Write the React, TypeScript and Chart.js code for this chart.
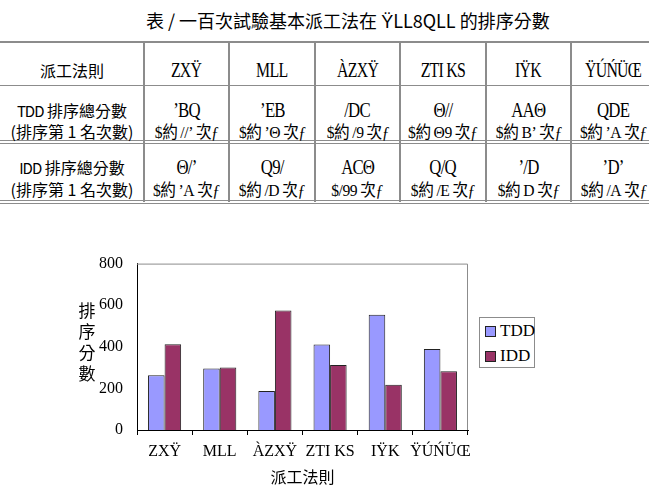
import React, { useEffect, useRef } from "react";
import { Chart, registerables } from "chart.js";

Chart.register(...registerables);

// ---- data ----
const categories = ["ZXŸ", "MLL", "ÀZXŸ", "ZTI KS", "IŸK", "ŸÚŃÜŒ"];
const seriesNames = ["TDD", "IDD"];
const tddScores = [263, 296, 187, 411, 554, 389];
const iddScores = [412, 301, 574, 313, 218, 282];
const tddFirst = [112, 24, 10, 40, 62, 25];
const iddFirst = [25, 18, 100, 19, 8, 15];
const yTicks = [0, 200, 400, 600, 800];
const titleText = "表 / 一百次試驗基本派工法在 ŸLL8QLL 的排序分數";
const ruleHeader = "派工法則";
const rowLabels = [
  ["TDD", " 排序總分數", "(排序第 1 名次數)"],
  ["IDD", " 排序總分數", "(排序第 1 名次數)"],
];
const yTitle = ["排", "序", "分", "數"];

// digit glyphs as they appear in the reference (symbol-font substitution)
const digitGlyphs = ["9", "/", "ʼ", "Q", "Θ", "A", "B", "C", "D", "E"];
const enc = (n: number) =>
  String(n)
    .split("")
    .map((d) => digitGlyphs[+d])
    .join("");

// ---- layout constants ----
const colX = [0, 144, 229, 315, 400, 486, 571, 656];
const rowY = [42, 85, 142, 202];
const lineColor = "#8c8c8c";
const serif = "'Liberation Serif', 'Times New Roman', serif";
const cjk = "'Noto Sans CJK TC', 'Noto Sans CJK SC', sans-serif";

const TDD_COLOR = "#9999FF";
const IDD_COLOR = "#993366";

function Line(props: { cx: number; cy: number; w: number; size: number; font: string; children: any; spacing?: number; sx?: number }) {
  const { cx, cy, w, size, font, children, spacing, sx } = props;
  return (
    <div
      style={{
        position: "absolute",
        left: cx - w / 2,
        top: cy - 14,
        width: w,
        height: 28,
        lineHeight: "28px",
        textAlign: "center",
        fontSize: size,
        fontFamily: font,
        whiteSpace: "nowrap",
        letterSpacing: spacing ?? 0,
        color: "#000",
      }}
    >
      <span style={{ display: "inline-block", transform: `scaleX(${sx ?? 1})` }}>{children}</span>
    </div>
  );
}

function Table() {
  const els: any[] = [];
  els.push(<div key="h0" style={{ position: "absolute", left: 0, top: rowY[0] - 1, width: 656, height: 2, background: lineColor }} />);
  els.push(<div key="h1" style={{ position: "absolute", left: 0, top: rowY[1], width: 656, height: 1, background: lineColor }} />);
  [2, 3].forEach((i) => {
    els.push(<div key={"h" + i + "a"} style={{ position: "absolute", left: 0, top: rowY[i] - 2, width: 656, height: 1, background: lineColor }} />);
    els.push(<div key={"h" + i + "b"} style={{ position: "absolute", left: 0, top: rowY[i] + 1, width: 656, height: 1, background: lineColor }} />);
  });
  for (let i = 1; i < colX.length - 1; i++) {
    els.push(
      <div key={"v" + i} style={{ position: "absolute", left: colX[i] - 1, top: rowY[0], width: 2, height: rowY[3] - rowY[0], background: lineColor }} />
    );
  }
  const cx = (i: number) => (colX[i] + colX[i + 1]) / 2;
  els.push(
    <Line key="hdr" cx={cx(0)} cy={70} w={140} size={16} font={cjk}>
      {ruleHeader}
    </Line>
  );
  categories.forEach((c, i) => {
    els.push(
      <Line key={"c" + i} cx={cx(i + 1)} cy={70} w={84} size={22} font={serif} spacing={-1} sx={0.72}>
        {c}
      </Line>
    );
  });
  const rowCy = [
    [110, 131],
    [167, 189],
  ];
  const scores = [tddScores, iddScores];
  const firsts = [tddFirst, iddFirst];
  rowLabels.forEach((lab, r) => {
    els.push(
      <Line key={"rl" + r} cx={cx(0)} cy={rowCy[r][0]} w={144} size={16} font={cjk}>
        <span style={{ fontSize: 15, letterSpacing: -1 }}>{lab[0]}</span>
        {lab[1]}
      </Line>
    );
    els.push(
      <Line key={"rl2" + r} cx={cx(0)} cy={rowCy[r][1]} w={144} size={16} font={cjk}>
        {lab[2]}
      </Line>
    );
    scores[r].forEach((v, i) => {
      els.push(
        <Line key={"s" + r + i} cx={cx(i + 1)} cy={rowCy[r][0]} w={84} size={21} font={serif} spacing={-1} sx={0.8}>
          {enc(v)}
        </Line>
      );
      const n = firsts[r][i];
      els.push(
        <Line key={"f" + r + i} cx={cx(i + 1)} cy={rowCy[r][1]} w={86} size={17} font={serif} spacing={-0.5} sx={0.92}>
          {"$"}
          {n === 100 ? "" : <span style={{ fontFamily: cjk }}>約 </span>}
          {enc(n)}
          <span style={{ fontFamily: cjk }}> 次</span>
          <i>ƒ</i>
        </Line>
      );
    });
  });
  return <>{els}</>;
}

const framePlugin = {
  id: "frame",
  beforeDatasetsDraw(chart: any) {
    const { ctx, chartArea } = chart;
    ctx.save();
    ctx.strokeStyle = "#8c8c8c";
    ctx.lineWidth = 1;
    ctx.beginPath();
    ctx.moveTo(chartArea.left, chartArea.top + 0.5);
    ctx.lineTo(chartArea.right - 0.5, chartArea.top + 0.5);
    ctx.lineTo(chartArea.right - 0.5, chartArea.bottom);
    ctx.stroke();
    ctx.restore();
  },
};

function BarChart() {
  const ref = useRef<HTMLCanvasElement | null>(null);
  useEffect(() => {
    if (!ref.current) return;
    const chart = new Chart(ref.current, {
      type: "bar",
      data: {
        labels: categories,
        datasets: [
          { label: seriesNames[0], data: tddScores, backgroundColor: TDD_COLOR, borderColor: "#222", borderWidth: 1 },
          { label: seriesNames[1], data: iddScores, backgroundColor: IDD_COLOR, borderColor: "#222", borderWidth: 1 },
        ],
      },
      options: {
        animation: false,
        responsive: false,
        maintainAspectRatio: false,
        datasets: { bar: { categoryPercentage: 0.6, barPercentage: 1 } },
        layout: { padding: { left: 0, right: 181, top: 14, bottom: 0 } },
        plugins: { legend: { display: false }, tooltip: { enabled: false } },
        scales: {
          x: {
            grid: { offset: true, drawOnChartArea: false, drawTicks: true, tickLength: 5, color: "#000" },
            border: { display: true, color: "#000", width: 1 },
            ticks: { font: { family: serif, size: 16 }, color: "#000", padding: 7, maxRotation: 0, autoSkip: false },
            title: { display: true, text: ruleHeader, font: { family: cjk, size: 16 }, color: "#000", padding: { top: 0, bottom: 11 } },
            afterFit: (s: any) => {
              s.height = 68;
            },
          },
          y: {
            min: 0,
            max: 800,
            afterBuildTicks: (s: any) => {
              s.ticks = yTicks.map((v) => ({ value: v }));
            },
            ticks: { font: { family: serif, size: 16 }, color: "#000", padding: 14 },
            grid: { display: false, drawTicks: false },
            border: { display: true, color: "#000", width: 1 },
            afterFit: (s: any) => {
              s.width = 137;
            },
          },
        },
      },
      plugins: [framePlugin],
    });
    return () => chart.destroy();
  }, []);
  return <canvas ref={ref} width={649} height={258} style={{ position: "absolute", left: 0, top: 240, width: 649, height: 258 }} />;
}

function Legend() {
  const items = [
    [seriesNames[0], TDD_COLOR],
    [seriesNames[1], IDD_COLOR],
  ];
  return (
    <div
      style={{
        position: "absolute",
        left: 479,
        top: 317,
        width: 54,
        height: 49,
        border: "1px solid #8c8c8c",
        background: "#fff",
      }}
    >
      {items.map(([name, col], i) => (
        <div key={name} style={{ position: "absolute", left: 5, top: 3 + i * 25, height: 20, display: "flex", alignItems: "center" }}>
          <div style={{ width: 9, height: 9, background: col, border: "1px solid #222", marginRight: 4 }} />
          <span style={{ fontFamily: serif, fontSize: 17, color: "#000", lineHeight: "20px" }}>{name}</span>
        </div>
      ))}
    </div>
  );
}

export default function App() {
  return (
    <div style={{ position: "fixed", left: 0, top: 0, width: 649, height: 498, background: "#fff", overflow: "hidden" }}>
      <div
        style={{
          position: "absolute",
          left: 146,
          top: 6,
          height: 28,
          lineHeight: "28px",
          fontSize: 18,
          fontFamily: cjk,
          whiteSpace: "nowrap",
          color: "#000",
        }}
      >
        {titleText}
      </div>
      <Table />
      <BarChart />
      <Legend />
      <div style={{ position: "absolute", left: 77, top: 299, width: 20, textAlign: "center", fontFamily: cjk, fontSize: 17, lineHeight: "21px", color: "#000" }}>
        {yTitle.map((c) => (
          <div key={c}>{c}</div>
        ))}
      </div>
    </div>
  );
}
